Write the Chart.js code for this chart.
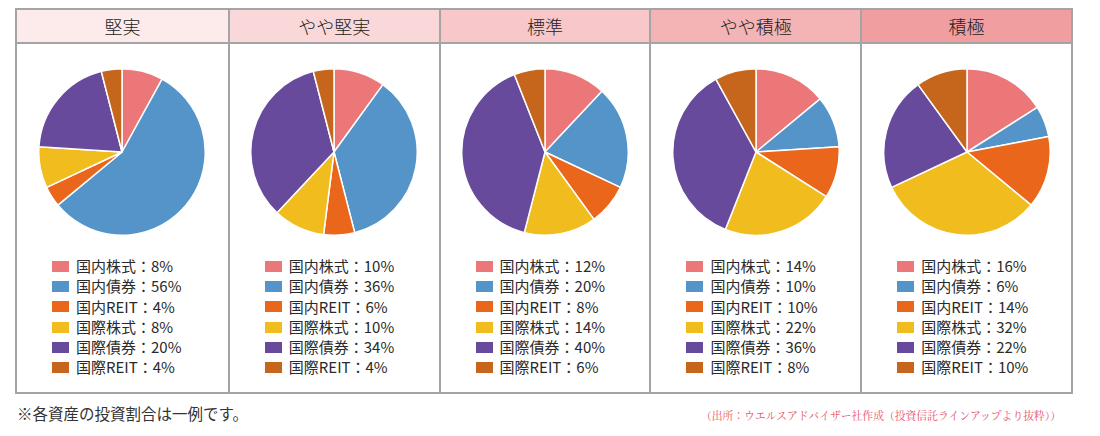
<!DOCTYPE html>
<html lang="ja">
<head>
<meta charset="utf-8">
<script src="https://cdn.jsdelivr.net/npm/chart.js@4/dist/chart.umd.min.js"></script>
<style>
  html, body { margin: 0; padding: 0; background: #fff; }
  body { width: 1100px; height: 436px; position: relative; overflow: hidden;
         font-family: "Noto Sans CJK JP", "Noto Sans", sans-serif; color: #333; }
  .frame { position: absolute; left: 15px; top: 8px; width: 1058px; height: 386px;
           border: 2px solid #a4a4a4; box-sizing: border-box;
           display: grid; grid-template-columns: repeat(5, 1fr); }
  .col { position: relative; border-left: 2px solid #a4a4a4; }
  .col:first-child { border-left: none; }
  .head { height: 34px; border-bottom: 2px solid #a4a4a4; box-sizing: border-box;
          text-align: center; font-size: 18px; font-weight: 300; line-height: 32px; color: #222; }
  .pie { position: absolute; top: 58px; left: 50%; width: 168px; height: 168px; margin-left: -84px; }
  .legend { position: absolute; top: 246px; left: 35px; font-size: 15px; color: #2a2a2a; }
  .row { height: 20.3px; line-height: 20.3px; white-space: nowrap; display: flex; align-items: center; }
  .sw { width: 17px; height: 11px; margin-right: 7px; flex: none; }
  .note { position: absolute; left: 17px; top: 402px; font-size: 15.5px; color: #333; }
  .src { position: absolute; right: 39px; top: 408px; font-size: 10.8px; color: #e8506a;
         font-family: "Noto Serif CJK JP", "Noto Sans CJK JP", serif; }
</style>
</head>
<body>
<div class="frame" id="frame"></div>
<div class="note">※各資産の投資割合は一例です。</div>
<div class="src">（出所：ウエルスアドバイザー社作成（投資信託ラインアップより抜粋））</div>
<script>
// allocation profiles, left to right
const profiles = ["堅実", "やや堅実", "標準", "やや積極", "積極"];
const headColors = ["#fdeaea", "#fad8d9", "#f7c7c9", "#f4b3b5", "#f09ea0"];

const assets = ["国内株式", "国内債券", "国内REIT", "国際株式", "国際債券", "国際REIT"];
const assetColors = ["#ec7779", "#5494c9", "#e9661b", "#f1bc1e", "#674a9b", "#c6661c"];

// percentages per profile, in the order of `assets`
const steady       = [8, 56, 4, 8, 20, 4];
const fairlySteady = [10, 36, 6, 10, 34, 4];
const standard     = [12, 20, 8, 14, 40, 6];
const fairlyActive = [14, 10, 10, 22, 36, 8];
const active       = [16, 6, 14, 32, 22, 10];
const series = [steady, fairlySteady, standard, fairlyActive, active];

const frame = document.getElementById("frame");

profiles.forEach((name, i) => {
  const col = document.createElement("div");
  col.className = "col";
  col.innerHTML = `
    <div class="head" style="background:${headColors[i]}">${name}</div>
    <div class="pie"><canvas></canvas></div>
    <div class="legend">${assets.map((a, k) =>
      `<div class="row"><span class="sw" style="background:${assetColors[k]}"></span>${a}：${series[i][k]}%</div>`
    ).join("")}</div>`;
  frame.appendChild(col);

  new Chart(col.querySelector("canvas"), {
    type: "pie",
    data: {
      labels: assets,
      datasets: [{
        data: series[i],
        backgroundColor: assetColors,
        borderColor: "#ffffff",
        borderWidth: 1.5,
      }],
    },
    options: {
      responsive: true,
      maintainAspectRatio: false,
      animation: false,
      layout: { padding: 0 },
      plugins: { legend: { display: false }, tooltip: { enabled: false } },
    },
  });
});
</script>
</body>
</html>
